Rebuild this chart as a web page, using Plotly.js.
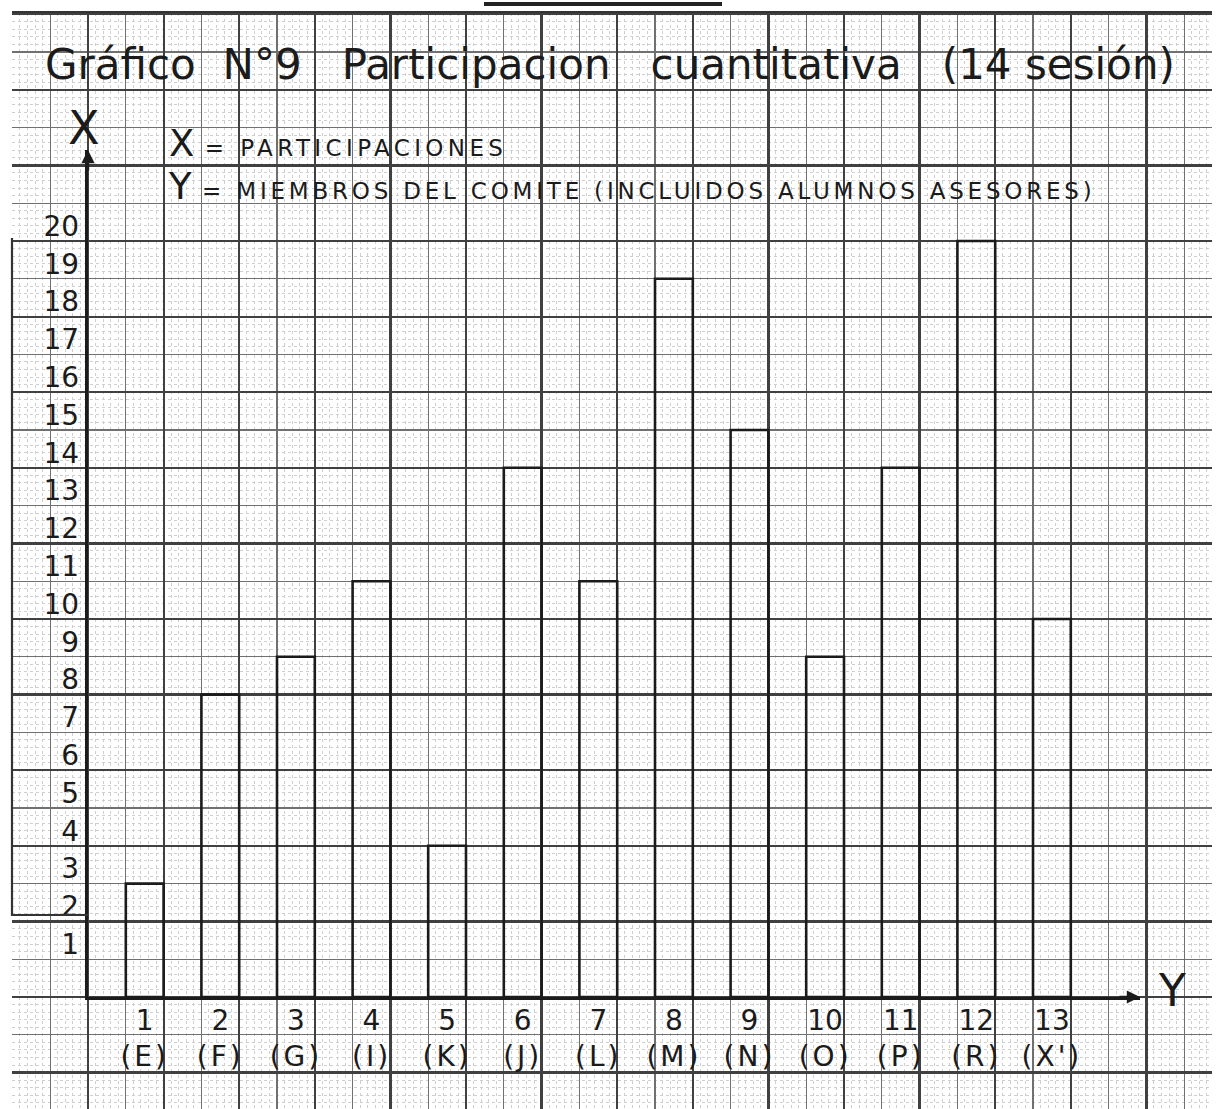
<!DOCTYPE html>
<html>
<head>
<meta charset="utf-8">
<script src="https://cdn.plot.ly/plotly-3.0.1.min.js"></script>
<style>html,body{margin:0;padding:0;background:#ffffff;}</style>
</head>
<body>
<div id="chart" style="width:1226px;height:1109px;"></div>
<script>
// ---- data ----
const members = ['1','2','3','4','5','6','7','8','9','10','11','12','13'];
const memberLetters = ['E','F','G','I','K','J','L','M','N','O','P','R',"X'"];
const participations = [3, 8, 9, 11, 4, 14, 11, 19, 15, 9, 14, 20, 10];
const yTickValues = [1,2,3,4,5,6,7,8,9,10,11,12,13,14,15,16,17,18,19,20];
const titleText = 'Gráfico  N°9   Participacion   cuantitativa   (14 sesión)';
const legendX = '= PARTICIPACIONES';
const legendY = '= MIEMBROS DEL COMITE (INCLUIDOS ALUMNOS ASESORES)';
const axisNameVertical = 'X';
const axisNameHorizontal = 'Y';

// ---- layout geometry (pixels) ----
const W = 1226, H = 1109;
const cell = 37.8;          // graph-paper cell
const axX = 88;             // pixel x of vertical axis
const axY = 997;            // pixel y of horizontal axis
const gridL = 12, gridR = 1212, gridT = 13;
const dataRightPx = 1140, dataTopPx = 150;

const ink = '#1b1b1b';
const font = 'DejaVu Sans, Liberation Sans, sans-serif';

const tickText = members.map((m, i) =>
  m + '<br><span style="letter-spacing:3px">(' + memberLetters[i] + ')</span>');

const xRange0 = -0.75;
const xRange1 = xRange0 + (dataRightPx - axX) / (2 * cell);
const yRange1 = (axY - dataTopPx) / cell;

const keyText =
  '<span style="font-size:37px">' + axisNameVertical + '</span> ' +
  '<span style="font-size:23px;letter-spacing:4.4px">' + legendX + '</span><br>' +
  '<span style="font-size:37px">' + axisNameHorizontal + '</span> ' +
  '<span style="font-size:23px;letter-spacing:3.8px">' + legendY + '</span>';

const traces = [
  // graph paper: fine + medium lines
  {type:'scatter', x:[null], y:[null], xaxis:'x', yaxis:'y', hoverinfo:'skip', showlegend:false},
  // graph paper: thick lines
  {type:'scatter', x:[null], y:[null], xaxis:'x2', yaxis:'y2', hoverinfo:'skip', showlegend:false},
  // data bars
  {
    type:'bar', x: members, y: participations, xaxis:'x3', yaxis:'y3',
    width: 0.5,
    marker:{color:'rgba(255,255,255,0)', line:{color: ink, width: 2.6}},
    hoverinfo:'x+y', showlegend:false
  }
];

const gx = {
  domain:[gridL/W, gridR/W], range:[(gridL-axX)/cell, (gridR-axX)/cell],
  showticklabels:false, ticks:'', zeroline:false, showline:false, fixedrange:true
};
const gy = {
  domain:[0, 1 - gridT/H], range:[(axY-H)/cell, (axY-gridT)/cell],
  showticklabels:false, ticks:'', zeroline:false, showline:false, fixedrange:true
};

const layout = {
  width: W, height: H, autosize:false,
  margin:{l:0, r:0, t:0, b:0, pad:0},
  paper_bgcolor:'#ffffff', plot_bgcolor:'rgba(0,0,0,0)',
  showlegend:false,
  title:{
    text: titleText, x: 45/W, xanchor:'left', y: 1 - 64/H, yanchor:'middle',
    font:{family: font, size: 42, color: ink}
  },
  xaxis: Object.assign({}, gx, {anchor:'y', dtick:1, tick0:0, showgrid:true, gridcolor:'#707070', gridwidth:1.2,
    minor:{dtick:0.2, tick0:0, showgrid:true, gridcolor:'#cfcfcf', gridwidth:1, griddash:'dot'}}),
  yaxis: Object.assign({}, gy, {anchor:'x', dtick:1, tick0:0, showgrid:true, gridcolor:'#707070', gridwidth:1.2,
    minor:{dtick:0.2, tick0:0, showgrid:true, gridcolor:'#cfcfcf', gridwidth:1, griddash:'dot'}}),
  xaxis2: Object.assign({}, gx, {anchor:'y2', dtick:2, tick0:0, showgrid:true, gridcolor:'#404040', gridwidth:2.2,
    showline:true, side:'top', linecolor:'#333', linewidth:2.5, mirror:false}),
  yaxis2: Object.assign({}, gy, {anchor:'x2', dtick:2, tick0:0, showgrid:true, gridcolor:'#404040', gridwidth:2.2}),
  xaxis3: {
    anchor:'y3', domain:[axX/W, dataRightPx/W], range:[xRange0, xRange1],
    type:'category', showgrid:false, zeroline:false,
    showline:true, linecolor: ink, linewidth:3.2,
    ticks:'', tickmode:'array', tickvals: members, ticktext: tickText,
    tickfont:{family: font, size: 28, color: ink}, ticklabelstandoff: -4,
    fixedrange:true
  },
  yaxis3: {
    anchor:'x3', domain:[(H-axY)/H, (H-dataTopPx)/H], range:[0, yRange1],
    showgrid:false, zeroline:false,
    showline:true, linecolor: ink, linewidth:3.2,
    ticks:'', tickmode:'array', tickvals: yTickValues, ticktext: yTickValues.map(String),
    tickfont:{family: font, size: 28, color: ink}, ticklabelshift: -15, ticklabelstandoff: 0,
    fixedrange:true
  },
  annotations:[
    // arrow heads on the axes
    {xref:'x3', yref:'y3', x:xRange0, y:yRange1, ax:0, ay:22, text:'', showarrow:true,
      arrowhead:2, arrowsize:1.1, arrowwidth:2.4, arrowcolor: ink},
    {xref:'x3', yref:'y3', x:xRange1, y:0, ax:-22, ay:0, text:'', showarrow:true,
      arrowhead:2, arrowsize:1.1, arrowwidth:2.4, arrowcolor: ink},
    // axis names
    {xref:'paper', yref:'paper', x:84/W, y:1-128/H, xanchor:'center', yanchor:'middle', showarrow:false,
      text: axisNameVertical, font:{family: font, size: 46, color: ink}},
    {xref:'paper', yref:'paper', x:1172/W, y:1-990/H, xanchor:'center', yanchor:'middle', showarrow:false,
      text: axisNameHorizontal, font:{family: font, size: 44, color: ink}},
    // key (two lines)
    {xref:'paper', yref:'paper', x:166/W, y:1-165/H, xanchor:'left', yanchor:'middle', align:'left',
      showarrow:false, text: keyText, font:{family: font, size: 33, color: ink}}
  ],
  shapes:[
    {type:'path', xref:'paper', yref:'paper', layer:'above',
      path:'M ' + (gridL/W) + ' ' + (1-238/H) + ' L ' + (gridL/W) + ' ' + (1-915/H) + ' L ' + (axX/W) + ' ' + (1-915/H),
      line:{color:'#333', width:2.2}},
    {type:'line', xref:'paper', yref:'paper', layer:'above',
      x0:484/W, x1:722/W, y0:1-4/H, y1:1-4/H, line:{color:'#222', width:4}}
  ]
};

Plotly.newPlot('chart', traces, layout, {staticPlot:true, displayModeBar:false});
</script>
</body>
</html>
